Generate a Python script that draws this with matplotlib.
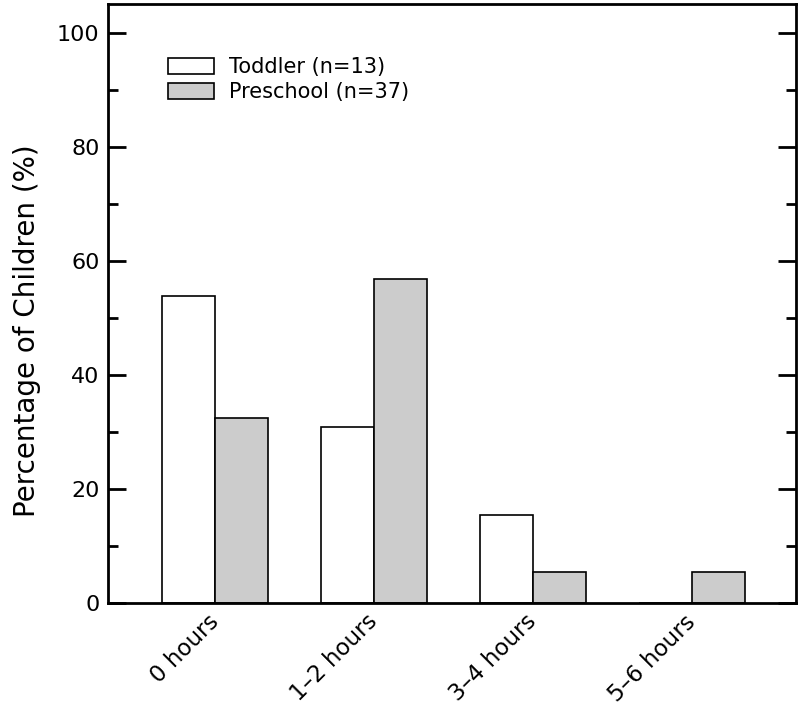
import matplotlib
matplotlib.use("Agg")
import matplotlib.pyplot as plt
import numpy as np
from matplotlib.ticker import MultipleLocator

categories = ["0 hours", "1\u20132 hours", "3\u20134 hours", "5\u20136 hours"]
toddler = [53.8, 30.8, 15.4, 0.0]
preschool = [32.4, 56.8, 5.4, 5.4]
series_labels = ["Toddler (n=13)", "Preschool (n=37)"]
yticks = [0, 20, 40, 60, 80, 100]

plt.rcParams['font.family'] = ['DejaVu Sans']

fig = plt.figure(figsize=(8, 7.1), dpi=100)
ax = fig.add_axes([0.135, 0.1507, 0.8595, 0.8437])

x = np.arange(len(categories))
w = 1/3
ax.bar(x - w/2, toddler, w, color="white", edgecolor="black", linewidth=1.2, label=series_labels[0])
ax.bar(x + w/2, preschool, w, color="#cccccc", edgecolor="black", linewidth=1.2, label=series_labels[1])

ax.set_xlim(-0.673, 3.65)
ax.set_ylim(0, 105)
ax.set_yticks(yticks)
ax.yaxis.set_minor_locator(MultipleLocator(10))
ax.tick_params(axis='y', which='major', direction='in', length=13, width=2, labelsize=16, left=True, right=True, pad=6)
ax.tick_params(axis='y', which='minor', direction='in', length=7, width=2, left=True, right=True)
ax.set_xticks(x)
ax.set_xticklabels(categories, rotation=45, ha='right', va='center', rotation_mode='anchor', fontsize=16.5)
ax.tick_params(axis='x', length=0, pad=11)
for s in ax.spines.values():
    s.set_linewidth(2)

ax.set_ylabel("Percentage of Children (%)", fontsize=20)
ax.yaxis.set_label_coords(-0.098, 0.455)

leg = ax.legend(loc='upper left', bbox_to_anchor=(0.075, 0.925), frameon=False, fontsize=15,
                handlelength=2.2, handleheight=0.8, handletextpad=0.75, labelspacing=0.25, borderaxespad=0)

fig.savefig("out.png", dpi=100)
